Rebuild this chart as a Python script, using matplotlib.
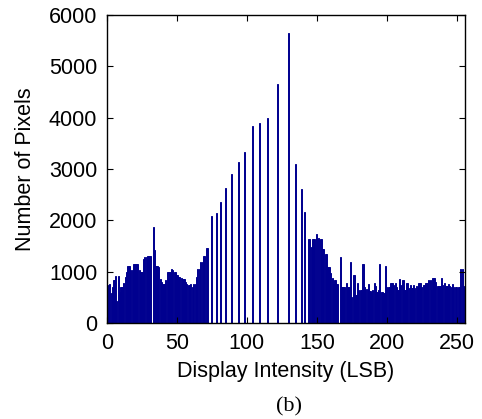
import matplotlib as mplt
mplt.use("Agg")
import matplotlib.pyplot as plt
import numpy as np

# pixel counts per display code, 0..255
counts_0_72 = [300, 740, 760, 580, 700, 830, 910, 420, 910, 610,
               695, 695, 790, 890, 985, 1115, 1115, 1030, 1030, 1150,
               1150, 1150, 1150, 1030, 990, 990, 1250, 1280, 1280, 1310,
               1310, 1310, 0, 1870, 1420, 1115, 1115, 1100, 850, 800,
               770, 770, 830, 1000, 1000, 1000, 1050, 1030, 1000, 1000,
               935, 900, 900, 870, 850, 850, 800, 770, 740, 740,
               770, 695, 770, 770, 890, 1050, 1050, 1180, 1180, 1310,
               1310, 1470, 1470]
counts_73_143 = [0, 0, 2090, 0, 0, 2150, 0, 0, 2350, 0,
                 0, 0, 2640, 0, 0, 0, 2900, 0, 0, 0,
                 0, 3130, 0, 0, 0, 3325, 0, 0, 0, 0,
                 0, 3840, 0, 0, 0, 0, 3900, 0, 0, 0,
                 0, 0, 4000, 0, 0, 0, 0, 0, 0, 4650,
                 0, 0, 0, 0, 0, 0, 0, 5650, 0, 0,
                 0, 0, 3090, 0, 0, 0, 2610, 0, 2170, 0,
                 0]
counts_144_255 = [1640, 1640, 1490, 1640, 1640, 0, 1730, 1660, 0, 1640,
                  1450, 1450, 1340, 1340, 1100, 1100, 970, 870, 770, 840,
                  770, 770, 0, 1280, 710, 710, 710, 790, 710, 710,
                  1180, 510, 930, 930, 545, 790, 640, 640, 640, 1150,
                  700, 660, 660, 760, 630, 590, 640, 790, 727, 600,
                  650, 1150, 610, 610, 580, 1117, 695, 695, 695, 790,
                  790, 740, 790, 707, 650, 863, 740, 840, 840, 640,
                  785, 785, 680, 740, 680, 740, 680, 727, 700, 790,
                  790, 695, 740, 750, 780, 780, 840, 840, 650, 870,
                  870, 805, 720, 720, 720, 870, 740, 775, 727, 727,
                  760, 720, 695, 760, 707, 707, 707, 707, 700, 1050,
                  1050, 720]

counts = np.array(counts_0_72 + counts_73_143 + counts_144_255)
levels = np.arange(len(counts))
nz = counts > 0

fig = plt.figure(figsize=(4.82, 4.19), dpi=100)
ax = fig.add_axes([0.222, 0.229, 0.743, 0.735])

# bars get an outline in the same blue so single spikes stay visible
ax.bar(levels[nz], counts[nz], width=0.8, color="#00008f", edgecolor="#00008f",
       linewidth=0.7)

# axis lenght and ticks, box style with inward ticks
ax.set_xlim(0, 256)
ax.set_ylim(0, 6000)
ax.set_xticks([0, 50, 100, 150, 200, 250])
ax.set_yticks([0, 1000, 2000, 3000, 4000, 5000, 6000])
ax.tick_params(direction="in", top=True, right=True, length=4, width=0.8,
               labelsize=15.5, pad=7)
for sp in ax.spines.values():
    sp.set_linewidth(1.0)

font = "Liberation Sans"
for lbl in ax.get_xticklabels() + ax.get_yticklabels():
    lbl.set_fontfamily(font)

ax.set_xlabel("Display Intensity (LSB)", fontsize=15.5, family=font, labelpad=5)
ax.set_ylabel("Number of Pixels", fontsize=15.5, family=font, labelpad=9)

fig.text(0.6, 0.018, "(b)", fontsize=16, family="Liberation Serif", ha="center")

fig.savefig("out.png", dpi=100)
